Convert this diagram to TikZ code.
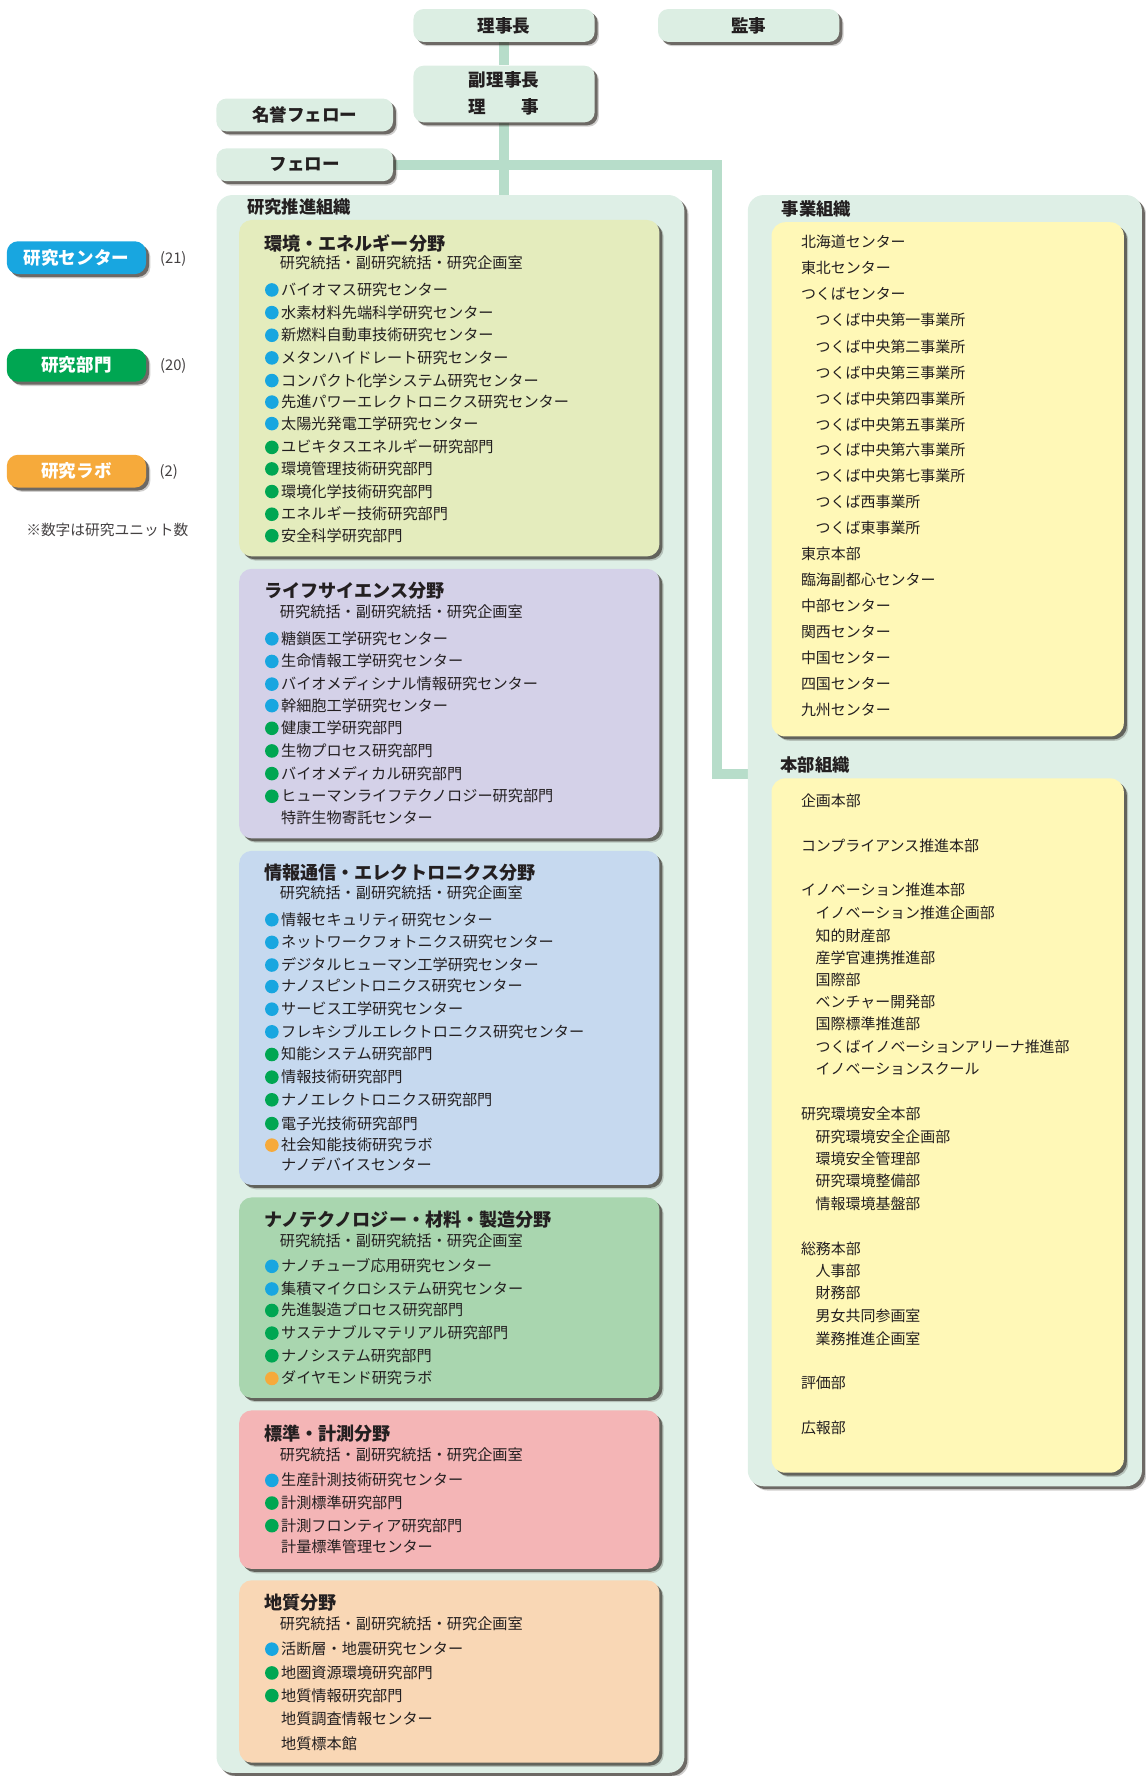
\documentclass[tikz,border=0pt]{standalone}
\usepackage{fontspec}
\setmainfont{Noto Sans CJK JP}
\usetikzlibrary{shadows,backgrounds}

\definecolor{panelmint}{HTML}{DEEFE6}
\definecolor{boxmint}{HTML}{DCEEE3}
\definecolor{linemint}{HTML}{B7DDCA}
\definecolor{envc}{HTML}{E4ECBD}
\definecolor{lifec}{HTML}{D4D1E8}
\definecolor{ictc}{HTML}{C6D9EF}
\definecolor{nanoc}{HTML}{A9D6AF}
\definecolor{stdc}{HTML}{F4B5B6}
\definecolor{geoc}{HTML}{F9D7B5}
\definecolor{yel}{HTML}{FFF8B7}
\definecolor{cblue}{HTML}{18A6E0}
\definecolor{cgreen}{HTML}{00A652}
\definecolor{corange}{HTML}{F6AA3B}
\definecolor{ink}{HTML}{231F20}
\definecolor{shadowc}{HTML}{2A241E}

\tikzset{
  x=1pt, y=-1pt,
  boxshadow/.style={
    drop shadow={shadow xshift=3.8pt, shadow yshift=-3.8pt, fill=shadowc, opacity=0.22},
    drop shadow={shadow xshift=2.6pt, shadow yshift=-2.6pt, fill=shadowc, opacity=0.6}},
  conn/.style={draw=linemint, line width=9pt},
  topbox/.style={boxshadow, fill=boxmint, rounded corners=9pt, minimum width=160pt,
    minimum height=29pt, inner sep=0pt, text=ink, font=\bfseries\fontsize{15.5}{18}\selectfont},
  legendbox/.style={boxshadow, rounded corners=10pt, minimum width=123pt, minimum height=29pt,
    inner sep=0pt, text=white, font=\bfseries\fontsize{15.5}{18}\selectfont},
  panel/.style={boxshadow, fill=panelmint, rounded corners=14pt, anchor=north west, inner sep=0pt},
  fieldbox/.style={boxshadow, rounded corners=11pt, minimum width=371pt, anchor=north west, inner sep=0pt},
  ybox/.style={boxshadow, fill=yel, rounded corners=12pt, minimum width=311pt, anchor=north west, inner sep=0pt},
  txt/.style={anchor=west, inner sep=0pt, text=ink, text height=0.84em, text depth=0.08em, yshift=-2pt},
  ptitle/.style={txt, yshift=-1.5pt, font=\bfseries\fontsize{15.3}{16}\selectfont},
  ftitle/.style={txt, yshift=-2pt, font=\bfseries\fontsize{16}{16}\selectfont},
  fsub/.style={txt, yshift=-0.5pt, font=\fontsize{13.4}{14}\selectfont},
  unitlabel/.style={txt, font=\fontsize{13.4}{14}\selectfont},
  orglabel/.style={txt, font=\fontsize{13.2}{14}\selectfont},
  count/.style={inner sep=0pt, text=ink!85, font=\fontsize{13}{14}\selectfont},
  dotmark/.style={circle, minimum size=12pt, inner sep=0pt, yshift=-1pt},
}

% one research unit: bullet of the unit kind, then its name
\newcommand\unitline[4]{%
  \node[dotmark, fill=#3] (#1-d) at (240,#2) {};
  \node[unitlabel] (#1) at (248,#2) {#4};}
% a facility line without a bullet
\newcommand\plainline[3]{\node[unitlabel] (#1) at (248,#2) {#3};}

\begin{document}
\begin{tikzpicture}
\useasboundingbox (0,0) rectangle (1011,1568);

% ---- executives ----
\node[topbox] (pres) at (445,22.5) {理事長};
\node[topbox] (audit) at (661,22.5) {監事};
\node[topbox, minimum height=50pt] (vice) at (445,83) {};
\node[txt, anchor=center, font=\bfseries\fontsize{15.5}{18}\selectfont] (vice1) at (445,71) {副理事長};
\node[txt, anchor=center, font=\bfseries\fontsize{15.5}{18}\selectfont] (vice2) at (445,94) {理　　事};
\node[topbox, minimum width=156pt] (hfellow) at (269,101.5) {名誉フェロー};
\node[topbox, minimum width=156pt] (fellow) at (269,145.5) {フェロー};

% ---- legend ----
\node[legendbox, fill=cblue] (lgcenter) at (67.5,227.5) {研究センター};
\node[count] (lgcenter-n) at (153,229) {(21)};
\node[legendbox, fill=cgreen] (lgdept) at (67.5,322.5) {研究部門};
\node[count] (lgdept-n) at (153,323) {(20)};
\node[legendbox, fill=corange] (lglab) at (67.5,416) {研究ラボ};
\node[count] (lglab-n) at (149,417) {(2)};
\node[count, anchor=west] (lgnote) at (23,468) {※数字は研究ユニット数};

% ---- research promotion organization ----
\node[panel, minimum width=413pt, minimum height=1393pt] (rpanel) at (191,172) {};
\node[ptitle] (rpanel-t) at (218,181) {研究推進組織};

% environment & energy
\node[fieldbox, fill=envc, minimum height=297pt] (env) at (211,194) {};
\node[ftitle] (env-t) at (233,213) {環境・エネルギー分野};
\node[fsub] (env-s) at (247,231) {研究統括・副研究統括・研究企画室};
\unitline{env1}{255}{cblue}{バイオマス研究センター}
\unitline{env2}{275}{cblue}{水素材料先端科学研究センター}
\unitline{env3}{295}{cblue}{新燃料自動車技術研究センター}
\unitline{env4}{315}{cblue}{メタンハイドレート研究センター}
\unitline{env5}{335}{cblue}{コンパクト化学システム研究センター}
\unitline{env6}{354}{cblue}{先進パワーエレクトロニクス研究センター}
\unitline{env7}{373}{cblue}{太陽光発電工学研究センター}
\unitline{env8}{394}{cgreen}{ユビキタスエネルギー研究部門}
\unitline{env9}{413}{cgreen}{環境管理技術研究部門}
\unitline{env10}{433}{cgreen}{環境化学技術研究部門}
\unitline{env11}{453}{cgreen}{エネルギー技術研究部門}
\unitline{env12}{472}{cgreen}{安全科学研究部門}

% life science
\node[fieldbox, fill=lifec, minimum height=238pt] (life) at (211,502) {};
\node[ftitle] (life-t) at (233,520) {ライフサイエンス分野};
\node[fsub] (life-s) at (247,539) {研究統括・副研究統括・研究企画室};
\unitline{life1}{563}{cblue}{糖鎖医工学研究センター}
\unitline{life2}{583}{cblue}{生命情報工学研究センター}
\unitline{life3}{603}{cblue}{バイオメディシナル情報研究センター}
\unitline{life4}{622}{cblue}{幹細胞工学研究センター}
\unitline{life5}{642}{cgreen}{健康工学研究部門}
\unitline{life6}{662}{cgreen}{生物プロセス研究部門}
\unitline{life7}{682}{cgreen}{バイオメディカル研究部門}
\unitline{life8}{702}{cgreen}{ヒューマンライフテクノロジー研究部門}
\plainline{life9}{721}{特許生物寄託センター}

% information & electronics
\node[fieldbox, fill=ictc, minimum height=295pt] (ict) at (211,751) {};
\node[ftitle] (ict-t) at (233,769) {情報通信・エレクトロニクス分野};
\node[fsub] (ict-s) at (247,787) {研究統括・副研究統括・研究企画室};
\unitline{ict1}{811}{cblue}{情報セキュリティ研究センター}
\unitline{ict2}{831}{cblue}{ネットワークフォトニクス研究センター}
\unitline{ict3}{851}{cblue}{デジタルヒューマン工学研究センター}
\unitline{ict4}{870}{cblue}{ナノスピントロニクス研究センター}
\unitline{ict5}{890}{cblue}{サービス工学研究センター}
\unitline{ict6}{910}{cblue}{フレキシブルエレクトロニクス研究センター}
\unitline{ict7}{930}{cgreen}{知能システム研究部門}
\unitline{ict8}{950}{cgreen}{情報技術研究部門}
\unitline{ict9}{970}{cgreen}{ナノエレクトロニクス研究部門}
\unitline{ict10}{991}{cgreen}{電子光技術研究部門}
\unitline{ict11}{1010}{corange}{社会知能技術研究ラボ}
\plainline{ict12}{1028}{ナノデバイスセンター}

% nanotechnology, materials & manufacturing
\node[fieldbox, fill=nanoc, minimum height=177pt] (nano) at (211,1057) {};
\node[ftitle] (nano-t) at (233,1075) {ナノテクノロジー・材料・製造分野};
\node[fsub] (nano-s) at (247,1094) {研究統括・副研究統括・研究企画室};
\unitline{nano1}{1117}{cblue}{ナノチューブ応用研究センター}
\unitline{nano2}{1137}{cblue}{集積マイクロシステム研究センター}
\unitline{nano3}{1156}{cgreen}{先進製造プロセス研究部門}
\unitline{nano4}{1176}{cgreen}{サステナブルマテリアル研究部門}
\unitline{nano5}{1196}{cgreen}{ナノシステム研究部門}
\unitline{nano6}{1216}{corange}{ダイヤモンド研究ラボ}

% metrology & measurement
\node[fieldbox, fill=stdc, minimum height=140pt] (std) at (211,1245) {};
\node[ftitle] (std-t) at (233,1264) {標準・計測分野};
\node[fsub] (std-s) at (247,1283) {研究統括・副研究統括・研究企画室};
\unitline{std1}{1306}{cblue}{生産計測技術研究センター}
\unitline{std2}{1326}{cgreen}{計測標準研究部門}
\unitline{std3}{1346}{cgreen}{計測フロンティア研究部門}
\plainline{std4}{1365}{計量標準管理センター}

% geological survey
\node[fieldbox, fill=geoc, minimum height=161pt] (geo) at (211,1395) {};
\node[ftitle] (geo-t) at (233,1413) {地質分野};
\node[fsub] (geo-s) at (247,1432) {研究統括・副研究統括・研究企画室};
\unitline{geo1}{1455}{cblue}{活断層・地震研究センター}
\unitline{geo2}{1476}{cgreen}{地圏資源環境研究部門}
\unitline{geo3}{1496}{cgreen}{地質情報研究部門}
\plainline{geo4}{1517}{地質調査情報センター}
\plainline{geo5}{1539}{地質標本館}

% ---- operations & headquarters ----
\node[panel, minimum width=348pt, minimum height=1140pt] (bpanel) at (660,172) {};
\node[ptitle] (bpanel-t) at (690,183) {事業組織};
\node[ybox, minimum height=454pt] (bizbox) at (681,196) {};
\node[ptitle] (hq-t) at (689,674) {本部組織};
\node[ybox, minimum height=613pt] (hqbox) at (681,687) {};

\node[orglabel] (b1) at (707,213) {北海道センター};
\node[orglabel] (b2) at (707,236) {東北センター};
\node[orglabel] (b3) at (707,259) {つくばセンター};
\node[orglabel] (b3a) at (720,282) {つくば中央第一事業所};
\node[orglabel] (b3b) at (720,305) {つくば中央第二事業所};
\node[orglabel] (b3c) at (720,328) {つくば中央第三事業所};
\node[orglabel] (b3d) at (720,351) {つくば中央第四事業所};
\node[orglabel] (b3e) at (720,374) {つくば中央第五事業所};
\node[orglabel] (b3f) at (720,396) {つくば中央第六事業所};
\node[orglabel] (b3g) at (720,419) {つくば中央第七事業所};
\node[orglabel] (b3h) at (720,442) {つくば西事業所};
\node[orglabel] (b3i) at (720,465) {つくば東事業所};
\node[orglabel] (b4) at (707,488) {東京本部};
\node[orglabel] (b5) at (707,511) {臨海副都心センター};
\node[orglabel] (b6) at (707,534) {中部センター};
\node[orglabel] (b7) at (707,557) {関西センター};
\node[orglabel] (b8) at (707,580) {中国センター};
\node[orglabel] (b9) at (707,603) {四国センター};
\node[orglabel] (b10) at (707,626) {九州センター};

\node[orglabel] (h1) at (707,706) {企画本部};
\node[orglabel] (h2) at (707,746) {コンプライアンス推進本部};
\node[orglabel] (h3) at (707,785) {イノベーション推進本部};
\node[orglabel] (h3a) at (720,805) {イノベーション推進企画部};
\node[orglabel] (h3b) at (720,825) {知的財産部};
\node[orglabel] (h3c) at (720,845) {産学官連携推進部};
\node[orglabel] (h3d) at (720,864) {国際部};
\node[orglabel] (h3e) at (720,884) {ベンチャー開発部};
\node[orglabel] (h3f) at (720,903) {国際標準推進部};
\node[orglabel] (h3g) at (720,923) {つくばイノベーションアリーナ推進部};
\node[orglabel] (h3h) at (720,943) {イノベーションスクール};
\node[orglabel] (h4) at (707,983) {研究環境安全本部};
\node[orglabel] (h4a) at (720,1003) {研究環境安全企画部};
\node[orglabel] (h4b) at (720,1022) {環境安全管理部};
\node[orglabel] (h4c) at (720,1042) {研究環境整備部};
\node[orglabel] (h4d) at (720,1062) {情報環境基盤部};
\node[orglabel] (h5) at (707,1102) {総務本部};
\node[orglabel] (h5a) at (720,1121) {人事部};
\node[orglabel] (h5b) at (720,1141) {財務部};
\node[orglabel] (h5c) at (720,1161) {男女共同参画室};
\node[orglabel] (h5d) at (720,1181) {業務推進企画室};
\node[orglabel] (h6) at (707,1220) {評価部};
\node[orglabel] (h7) at (707,1260) {広報部};

% ---- connectors, kept behind the boxes ----
\coordinate (bend) at (633,683);
\begin{pgfonlayer}{background}
  \draw[conn] (pres.south) -- (vice.north);
  \draw[conn] (vice.south) -- (vice.south |- rpanel.north);
  \draw[conn] (fellow.east) -| (bend) -- (bend -| bpanel.west);
\end{pgfonlayer}
\end{tikzpicture}
\end{document}
